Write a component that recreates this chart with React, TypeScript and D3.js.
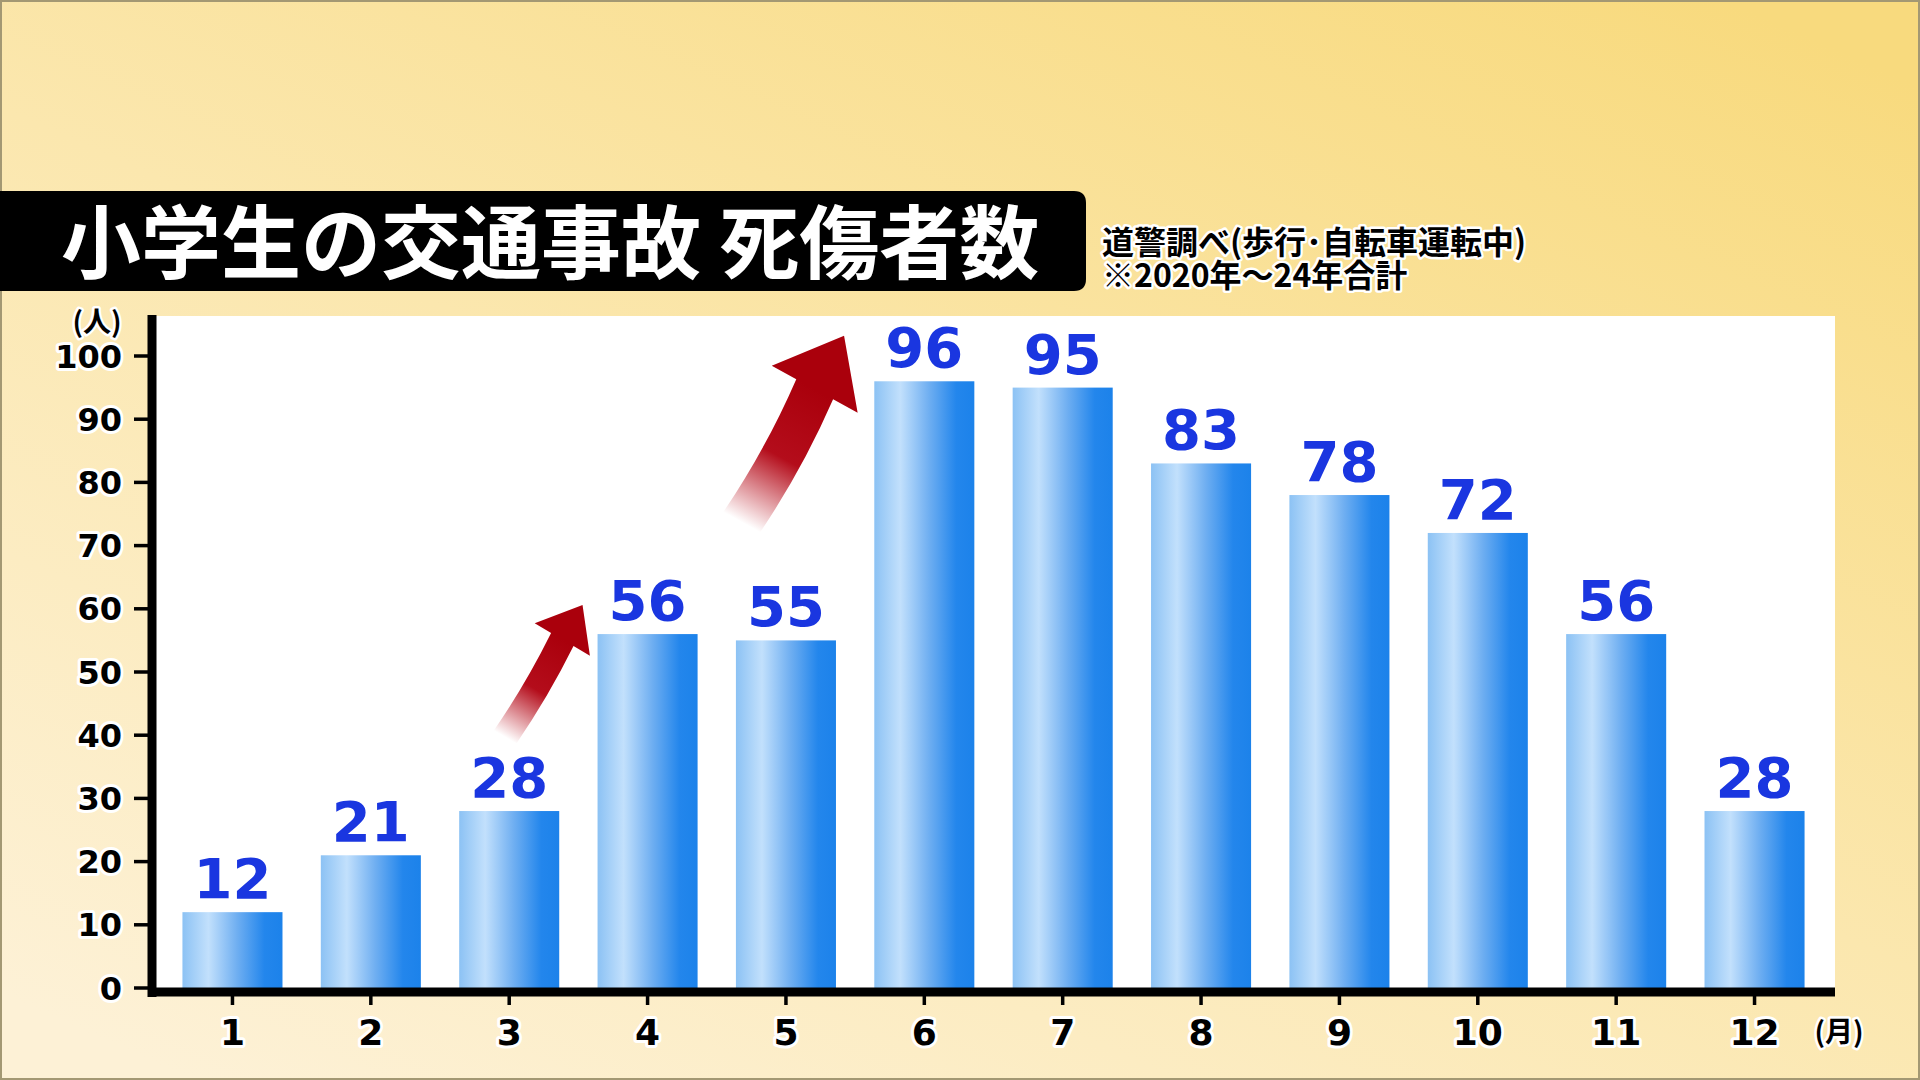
import * as d3 from "d3";

const months = [1, 2, 3, 4, 5, 6, 7, 8, 9, 10, 11, 12];
const values = [12, 21, 28, 56, 55, 96, 95, 83, 78, 72, 56, 28];
const yTicks = [0, 10, 20, 30, 40, 50, 60, 70, 80, 90, 100];

const title = "小学生の交通事故 死傷者数";
const sourceLines = ["道警調べ(歩行･自転車運転中)", "※2020年～24年合計"];

// arrow annotations in data space: [month, value]
const arrowTails = [[2.97, 39.7], [4.68, 73.7]];
const arrowTips = [[3.53, 60.6], [5.42, 103.2]];
const arrowSizes = [
  { shaft: 13, head: 32, headLen: 40, bend: 4 },
  { shaft: 21, head: 49, headLen: 61, bend: 7 },
];

const W = 1920;
const H = 1080;
const plot = { left: 152, right: 1835, top: 316, bottom: 988 };

const x = d3
  .scaleBand<number>()
  .domain(months)
  .range([plot.left, plot.right])
  .paddingInner(0.277)
  .paddingOuter(0.22);
const y = d3.scaleLinear().domain([0, 100]).range([plot.bottom, 356]);
const xMid = d3
  .scaleLinear()
  .domain([1, 12])
  .range([x(1)! + x.bandwidth() / 2, x(12)! + x.bandwidth() / 2]);

const numFont = "'DejaVu Sans', sans-serif";
const jpFont = "'Noto Sans CJK JP', sans-serif";

function arrowPath(t: number[], p: number[], s: typeof arrowSizes[0]) {
  const tx = xMid(t[0]), ty = y(t[1]);
  const px = xMid(p[0]), py = y(p[1]);
  const len = Math.hypot(px - tx, py - ty);
  const ux = (px - tx) / len, uy = (py - ty) / len;
  const nx = -uy, ny = ux;
  const bx = px - ux * s.headLen, by = py - uy * s.headLen;
  const mx = (tx + bx) / 2 + nx * s.bend, my = (ty + by) / 2 + ny * s.bend;
  const path = d3.path();
  path.moveTo(tx + nx * s.shaft, ty + ny * s.shaft);
  path.quadraticCurveTo(mx + nx * s.shaft, my + ny * s.shaft, bx + nx * s.shaft, by + ny * s.shaft);
  path.lineTo(bx + nx * s.head, by + ny * s.head);
  path.lineTo(px, py);
  path.lineTo(bx - nx * s.head, by - ny * s.head);
  path.lineTo(bx - nx * s.shaft, by - ny * s.shaft);
  path.quadraticCurveTo(mx - nx * s.shaft, my - ny * s.shaft, tx - nx * s.shaft, ty - ny * s.shaft);
  path.closePath();
  return { d: path.toString(), tx, ty, bx, by };
}

const halo = {
  stroke: "#fff",
  strokeLinejoin: "round" as const,
  paintOrder: "stroke",
};

export default function App() {
  const arrows = arrowTails.map((t, i) => arrowPath(t, arrowTips[i], arrowSizes[i]));
  return (
    <svg
      width={W}
      height={H}
      viewBox={`0 0 ${W} ${H}`}
      style={{ position: "fixed", left: 0, top: 0 }}
    >
      <defs>
        <linearGradient id="bg" x1="0.1" y1="1" x2="0.9" y2="0">
          <stop offset="0" stopColor="#fdf1d6" />
          <stop offset="0.5" stopColor="#fbe7ae" />
          <stop offset="1" stopColor="#f8da7e" />
        </linearGradient>
        <linearGradient id="bar" x1="0" y1="0" x2="1" y2="0">
          <stop offset="0" stopColor="#8cc2f4" />
          <stop offset="0.26" stopColor="#c2e0fc" />
          <stop offset="0.55" stopColor="#6eaef1" />
          <stop offset="0.82" stopColor="#2386ec" />
          <stop offset="1" stopColor="#1c82ea" />
        </linearGradient>
        {arrows.map((a, i) => (
          <linearGradient
            key={i}
            id={`arr${i}`}
            gradientUnits="userSpaceOnUse"
            x1={a.tx}
            y1={a.ty}
            x2={a.bx}
            y2={a.by}
          >
            <stop offset="0" stopColor="#b4000f" stopOpacity="0" />
            <stop offset="0.5" stopColor="#b0000f" stopOpacity="0.95" />
            <stop offset="1" stopColor="#aa000c" stopOpacity="1" />
          </linearGradient>
        ))}
      </defs>

      <rect width={W} height={H} fill="url(#bg)" />
      <rect x={1} y={1} width={W - 2} height={H - 2} fill="none" stroke="#a39873" strokeWidth={2} />

      {/* title bar */}
      <path d="M0,191 H1074 Q1086,191 1086,203 V279 Q1086,291 1074,291 H0 Z" fill="#000" />
      <text x={61} y={272} fill="#fff" fontFamily={jpFont} fontWeight={700} fontSize={80}>
        {title}
      </text>
      <text
        x={1102}
        y={254}
        fontFamily={jpFont}
        fontWeight={700}
        fontSize={32}
        fill="#000"
        strokeWidth={5}
        {...halo}
      >
        {sourceLines.map((s, i) => (
          <tspan key={s} x={1102} dy={i === 0 ? 0 : 33}>
            {s}
          </tspan>
        ))}
      </text>

      {/* plot area */}
      <rect
        x={plot.left}
        y={plot.top}
        width={plot.right - plot.left}
        height={plot.bottom - plot.top}
        fill="#fff"
      />

      {months.map((m, i) => (
        <rect
          key={m}
          x={x(m)}
          y={y(values[i])}
          width={x.bandwidth()}
          height={y(0) - y(values[i])}
          fill="url(#bar)"
        />
      ))}

      {arrows.map((a, i) => (
        <path key={i} d={a.d} fill={`url(#arr${i})`} />
      ))}

      {months.map((m, i) => (
        <text
          key={m}
          x={x(m)! + x.bandwidth() / 2}
          y={y(values[i]) - 14}
          textAnchor="middle"
          fontFamily={numFont}
          fontWeight={700}
          fontSize={56}
          fill="#1a36e0"
          strokeWidth={6}
          {...halo}
        >
          {values[i]}
        </text>
      ))}

      {/* y axis */}
      {yTicks.map((t) => (
        <g key={t}>
          <line x1={134} x2={152} y1={y(t)} y2={y(t)} stroke="#000" strokeWidth={3.5} />
          <text
            x={122}
            y={y(t)}
            dy="0.36em"
            textAnchor="end"
            fontFamily={numFont}
            fontWeight={700}
            fontSize={32}
            fill="#000"
            strokeWidth={6}
            {...halo}
          >
            {t}
          </text>
        </g>
      ))}
      <text
        x={97}
        y={332}
        textAnchor="middle"
        fontFamily={jpFont}
        fontWeight={700}
        fontSize={28}
        fill="#000"
        strokeWidth={5}
        {...halo}
      >
        (人)
      </text>
      <line x1={152} x2={152} y1={315} y2={997} stroke="#000" strokeWidth={9} />

      {/* x axis */}
      <line x1={148} x2={plot.right} y1={992} y2={992} stroke="#000" strokeWidth={9} />
      {months.map((m) => {
        const cx = x(m)! + x.bandwidth() / 2;
        return (
          <g key={m}>
            <line x1={cx} x2={cx} y1={996} y2={1005} stroke="#000" strokeWidth={3.5} />
            <text
              x={cx}
              y={1045}
              textAnchor="middle"
              fontFamily={numFont}
              fontWeight={700}
              fontSize={36}
              fill="#000"
              strokeWidth={6}
              {...halo}
            >
              {m}
            </text>
          </g>
        );
      })}
      <text
        x={1839}
        y={1042}
        textAnchor="middle"
        fontFamily={jpFont}
        fontWeight={700}
        fontSize={28}
        fill="#000"
        strokeWidth={5}
        {...halo}
      >
        (月)
      </text>
    </svg>
  );
}
